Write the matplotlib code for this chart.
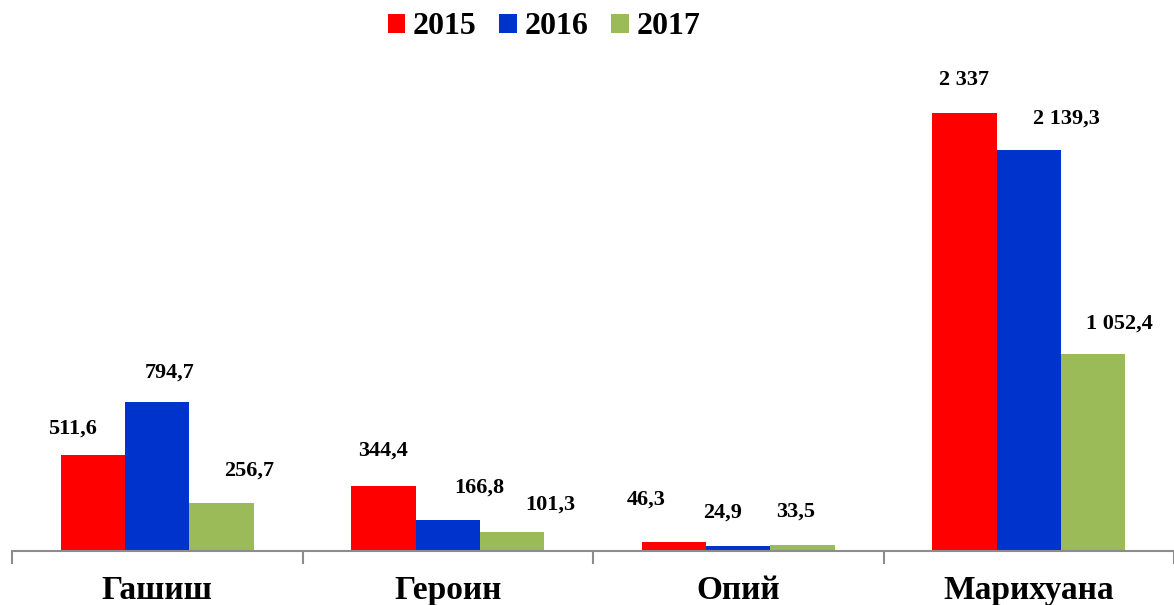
import matplotlib.pyplot as plt
from matplotlib.patches import Patch

# Seizures by drug type, 2015-2017
categories = ['Гашиш', 'Героин', 'Опий', 'Марихуана']
years = ['2015', '2016', '2017']
v2015 = [511.6, 344.4, 46.3, 2337.0]
v2016 = [794.7, 166.8, 24.9, 2139.3]
v2017 = [256.7, 101.3, 33.5, 1052.4]
labels2015 = ['511,6', '344,4', '46,3', '2 337']
labels2016 = ['794,7', '166,8', '24,9', '2 139,3']
labels2017 = ['256,7', '101,3', '33,5', '1 052,4']

colors = ['#FF0000', '#0033CC', '#9BBB59']
# manual label shifts (pixels) as placed in the original
shifts = [
    [(-20, 27), (0, 36), (-28, 43), (0, 33)],
    [(12, 29), (32, 32), (-16, 34), (38, 32)],
    [(27, 32), (38, 27), (-7, 33), (26, 30)],
]

plt.rcParams['font.family'] = ['Liberation Serif', 'DejaVu Serif']
plt.rcParams['font.weight'] = 'bold'

fig = plt.figure(figsize=(11.74, 6.05), dpi=100)
ax = fig.add_axes([12 / 1174, 54 / 605, 1162 / 1174, 491 / 605])

w = 0.222
x = list(range(len(categories)))
series = [(v2015, labels2015), (v2016, labels2016), (v2017, labels2017)]
for i, (vals, labs) in enumerate(series):
    xs = [xi + (i - 1) * w for xi in x]
    ax.bar(xs, vals, width=w, color=colors[i], edgecolor='none')
    for j in range(len(vals)):
        ax.annotate(labs[j], (xs[j], vals[j]), xytext=shifts[i][j],
                    textcoords='offset pixels', ha='center', va='center',
                    fontsize=16, fontweight='bold')

ax.set_xlim(-0.5, -0.5 + 1162 / 292.5)
ax.set_ylim(0, 491 / 0.1874)

for s in ['top', 'right', 'left']:
    ax.spines[s].set_visible(False)
ax.spines['bottom'].set_color('#8C8C8C')
ax.spines['bottom'].set_linewidth(1.5)
ax.set_yticks([])

ax.set_xticks([-0.5, 0.5, 1.5, 2.5, 3.5])
ax.set_xticklabels([])
ax.tick_params(axis='x', which='major', length=9, width=1.5, color='#8C8C8C', direction='out')
ax.set_xticks(x, minor=True)
ax.set_xticklabels(categories, minor=True, fontsize=24, fontweight='bold')
ax.tick_params(axis='x', which='minor', length=0, pad=17)

handles = [Patch(facecolor=c, edgecolor='none') for c in colors]
fig.legend(handles, years, loc='center', bbox_to_anchor=(544 / 1174, 1 - 27 / 605),
           ncol=3, frameon=False, fontsize=23, handlelength=0.55, handleheight=0.55,
           handletextpad=0.25, columnspacing=0.7, borderaxespad=0)

fig.savefig('out.png', dpi=100)
